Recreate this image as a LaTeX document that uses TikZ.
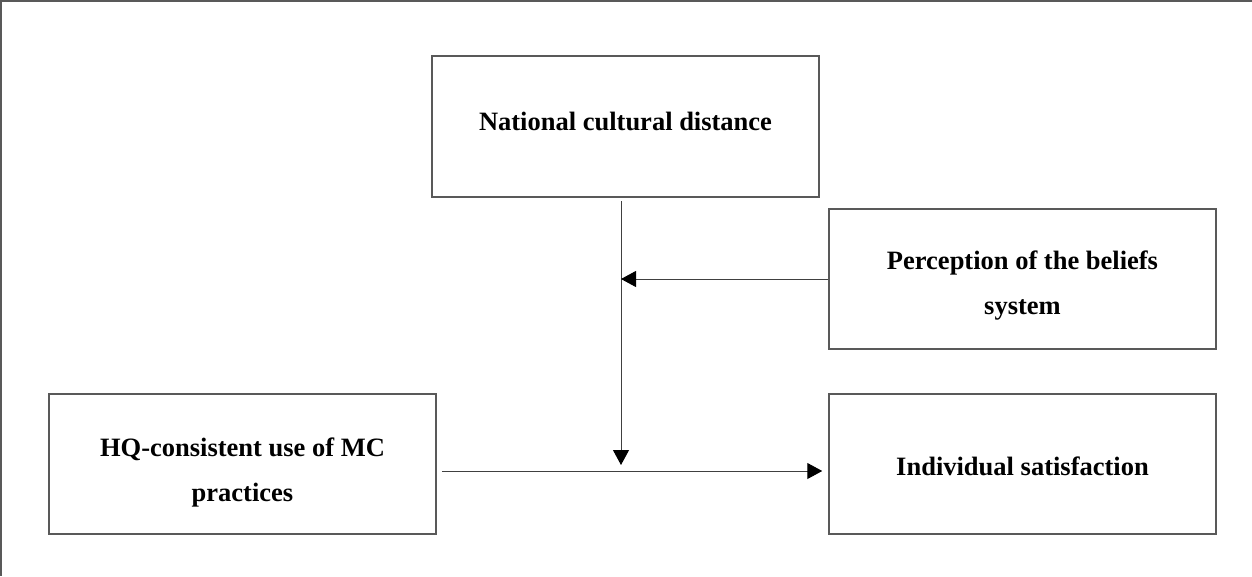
\documentclass[tikz,border=0pt]{standalone}
\usepackage{fontspec}
\setmainfont{Liberation Serif}
\usetikzlibrary{arrows.meta}
\newcommand{\boxtext}[2]{\raisebox{#1}[\height][\depth]{\begin{tabular}{@{}c@{}}#2\end{tabular}}}
\begin{document}
\begin{tikzpicture}[x=1pt,y=-1pt,
  boxnode/.style={draw=black!65, line width=1.5pt, minimum width=387pt, minimum height=140pt,
    inner sep=0pt, align=center, font=\fontsize{26.5}{45}\selectfont\bfseries},
  arr/.style={draw=black!75, line width=1pt, -{Triangle[length=15pt,width=16pt,color=black]}}]
\useasboundingbox (0,0) rectangle (1252,576);
\draw[black!65, line width=2pt] (1252,1) -- (1,1) -- (1,576);
\node[boxnode, minimum height=141pt] (ncd) at (625.5,126.5) {\boxtext{5pt}{National cultural distance}};
\node[boxnode] (pbs) at (1022.5,279) {\boxtext{-4pt}{Perception of the beliefs\\system}};
\node[boxnode] (hq) at (242.5,464) {\boxtext{-6pt}{HQ-consistent use of MC\\practices}};
\node[boxnode] (is) at (1022.5,464) {\boxtext{-2pt}{Individual satisfaction}};
\coordinate (vtop) at (621,201);
\coordinate (vbot) at (621,465);
\draw[arr] (vtop) -- (vbot);
\draw[arr] (pbs.west) -- (pbs.west -| vtop);
\draw[arr] ([shift={(5,7)}]hq.east) -- ([shift={(-6,7)}]is.west);
\end{tikzpicture}
\end{document}
